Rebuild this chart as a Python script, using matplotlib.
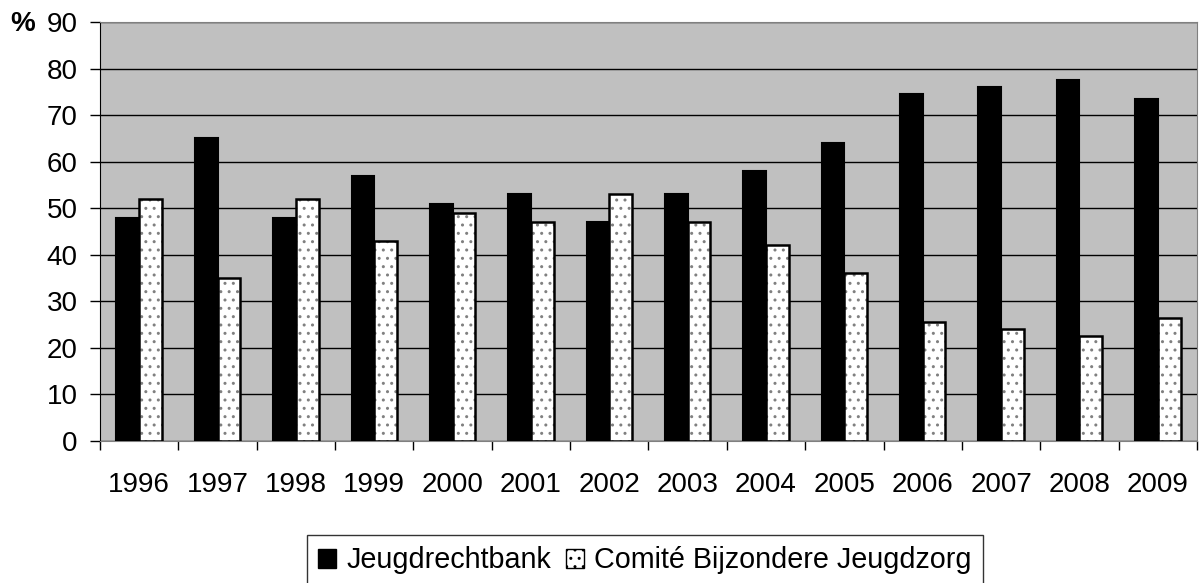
import matplotlib.pyplot as plt
import numpy as np
from matplotlib.patches import Patch

plt.rcParams['font.family'] = ['Liberation Sans', 'DejaVu Sans']

# data
jaren = ['1996', '1997', '1998', '1999', '2000', '2001', '2002',
         '2003', '2004', '2005', '2006', '2007', '2008', '2009']
jeugdrechtbank = [48, 65, 48, 57, 51, 53, 47, 53, 58, 64, 74.5, 76, 77.5, 73.5]
comite = [52, 35, 52, 43, 49, 47, 53, 47, 42, 36, 25.5, 24, 22.5, 26.5]

fig = plt.figure(figsize=(11.99, 5.83), dpi=100)
ax = fig.add_axes([100 / 1199, 1 - 441 / 583, 1097 / 1199, 419 / 583])
ax.set_facecolor('#c0c0c0')

x = np.arange(len(jaren))
w = 0.29
ax.bar(x - w / 2, jeugdrechtbank, w, color='black', edgecolor='black',
       linewidth=1.5, zorder=3)
# gestippelde balken: eerst wit met grijze stippen, dan zwarte rand
ax.bar(x + w / 2, comite, w, color='white', edgecolor='#808080',
       hatch='..', linewidth=0, zorder=3)
ax.bar(x + w / 2, comite, w, fill=False, edgecolor='black',
       linewidth=1.8, zorder=4)

ax.set_xlim(-0.5, len(jaren) - 0.5)
ax.set_ylim(0, 90)
ax.set_yticks(range(0, 91, 10))
ax.yaxis.grid(True, color='black', linewidth=1)
ax.set_axisbelow(True)

# x-ticks tussen de categorieen, labels in het midden
ax.set_xticks(np.arange(-0.5, len(jaren), 1))
ax.set_xticklabels([])
ax.set_xticks(x, minor=True)
ax.set_xticklabels(jaren, minor=True, fontsize=20)
ax.tick_params(axis='x', which='major', length=6.5, width=1, direction='out')
ax.tick_params(axis='x', which='minor', length=0, pad=22)
ax.tick_params(axis='y', length=7.2, width=1, labelsize=20, pad=9)

for s in ['top', 'right']:
    ax.spines[s].set_color('#808080')
ax.spines['left'].set_color('black')
ax.spines['bottom'].set_color('#808080')

fig.text(10 / 1199, 1 - 24 / 583, '%', fontsize=20, fontweight='bold',
         va='center', ha='left')

handles = [Patch(facecolor='black', edgecolor='black'),
           Patch(facecolor='white', edgecolor='black', hatch='..')]
leg = fig.legend(handles, ['Jeugdrechtbank', 'Comité Bijzondere Jeugdzorg'],
                 loc='upper center', bbox_to_anchor=(645 / 1199, 1 - 535 / 583),
                 ncol=2, fontsize=20.7, frameon=True, fancybox=False,
                 edgecolor='black', handlelength=0.63, handleheight=0.63,
                 handletextpad=0.35, columnspacing=0.52, borderpad=0.4,
                 borderaxespad=0)
leg.get_frame().set_linewidth(1)

fig.savefig('out.png', dpi=100)
